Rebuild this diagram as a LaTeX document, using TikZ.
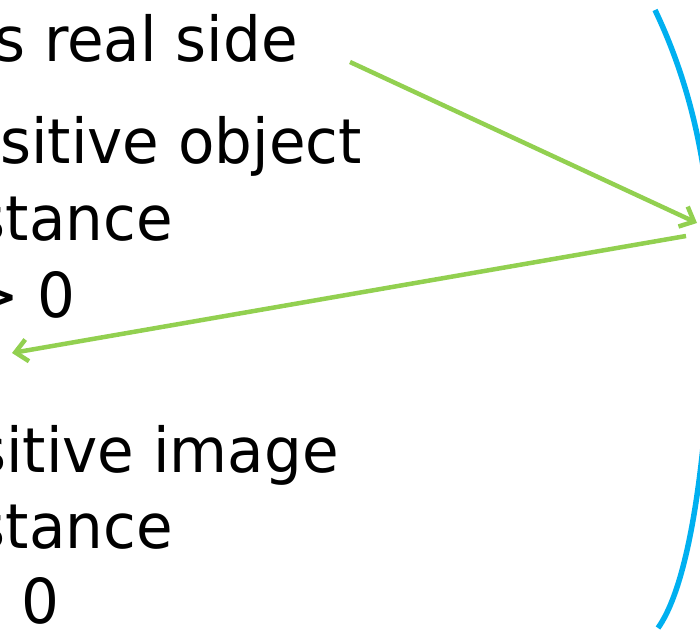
\documentclass[tikz,border=0pt]{standalone}
\usepackage{fontspec}
\setmainfont[FakeStretch=0.96]{DejaVu Sans}
\usepackage{tikz}
\usetikzlibrary{arrows.meta, positioning}
\definecolor{raygreen}{HTML}{92D050}
\definecolor{lensblue}{HTML}{00B0F0}
\tikzstyle{label} = [inner sep=0pt, anchor=base east, font=\fontsize{62}{74}\selectfont, text=black]
\tikzstyle{ray} = [line width=4.5pt, draw=raygreen, -{Straight Barb[length=12pt, width=22pt, line width=4.5pt]}]
\tikzstyle{lens} = [line width=5.5pt, draw=lensblue]

\begin{document}
\begin{tikzpicture}[x=1pt, y=-1pt]

\useasboundingbox (0,0) rectangle (700,631);
\clip (0,0) rectangle (700,631);

\node (realside) [label] at (298,62) {s real side};
\node (objtext) [label] at (362,163) {sitive object};
\node (objdist) [label] at (173,240) {stance};
\node (objsign) [label] at (76,317) {> 0};
\node (imgtext) [label] at (339,472) {sitive image};
\node (imgdist) [label] at (173,548) {stance};
\node (imgsign) [label] at (60,623) {0};

\coordinate (incoming) at (350,62);
\coordinate (lenshit) at (697,223);
\coordinate (outgoing) at (686,236);
\coordinate (returned) at (12,353);

% lens surface
\draw [lens] (655,10) .. controls (698,100) and (712,194) .. (712,284)
  .. controls (712,344) and (704,563) .. (658,628);

% rays
\draw [ray] (incoming) -- (lenshit);
\draw [ray] (outgoing) -- (returned);

\end{tikzpicture}
\end{document}
